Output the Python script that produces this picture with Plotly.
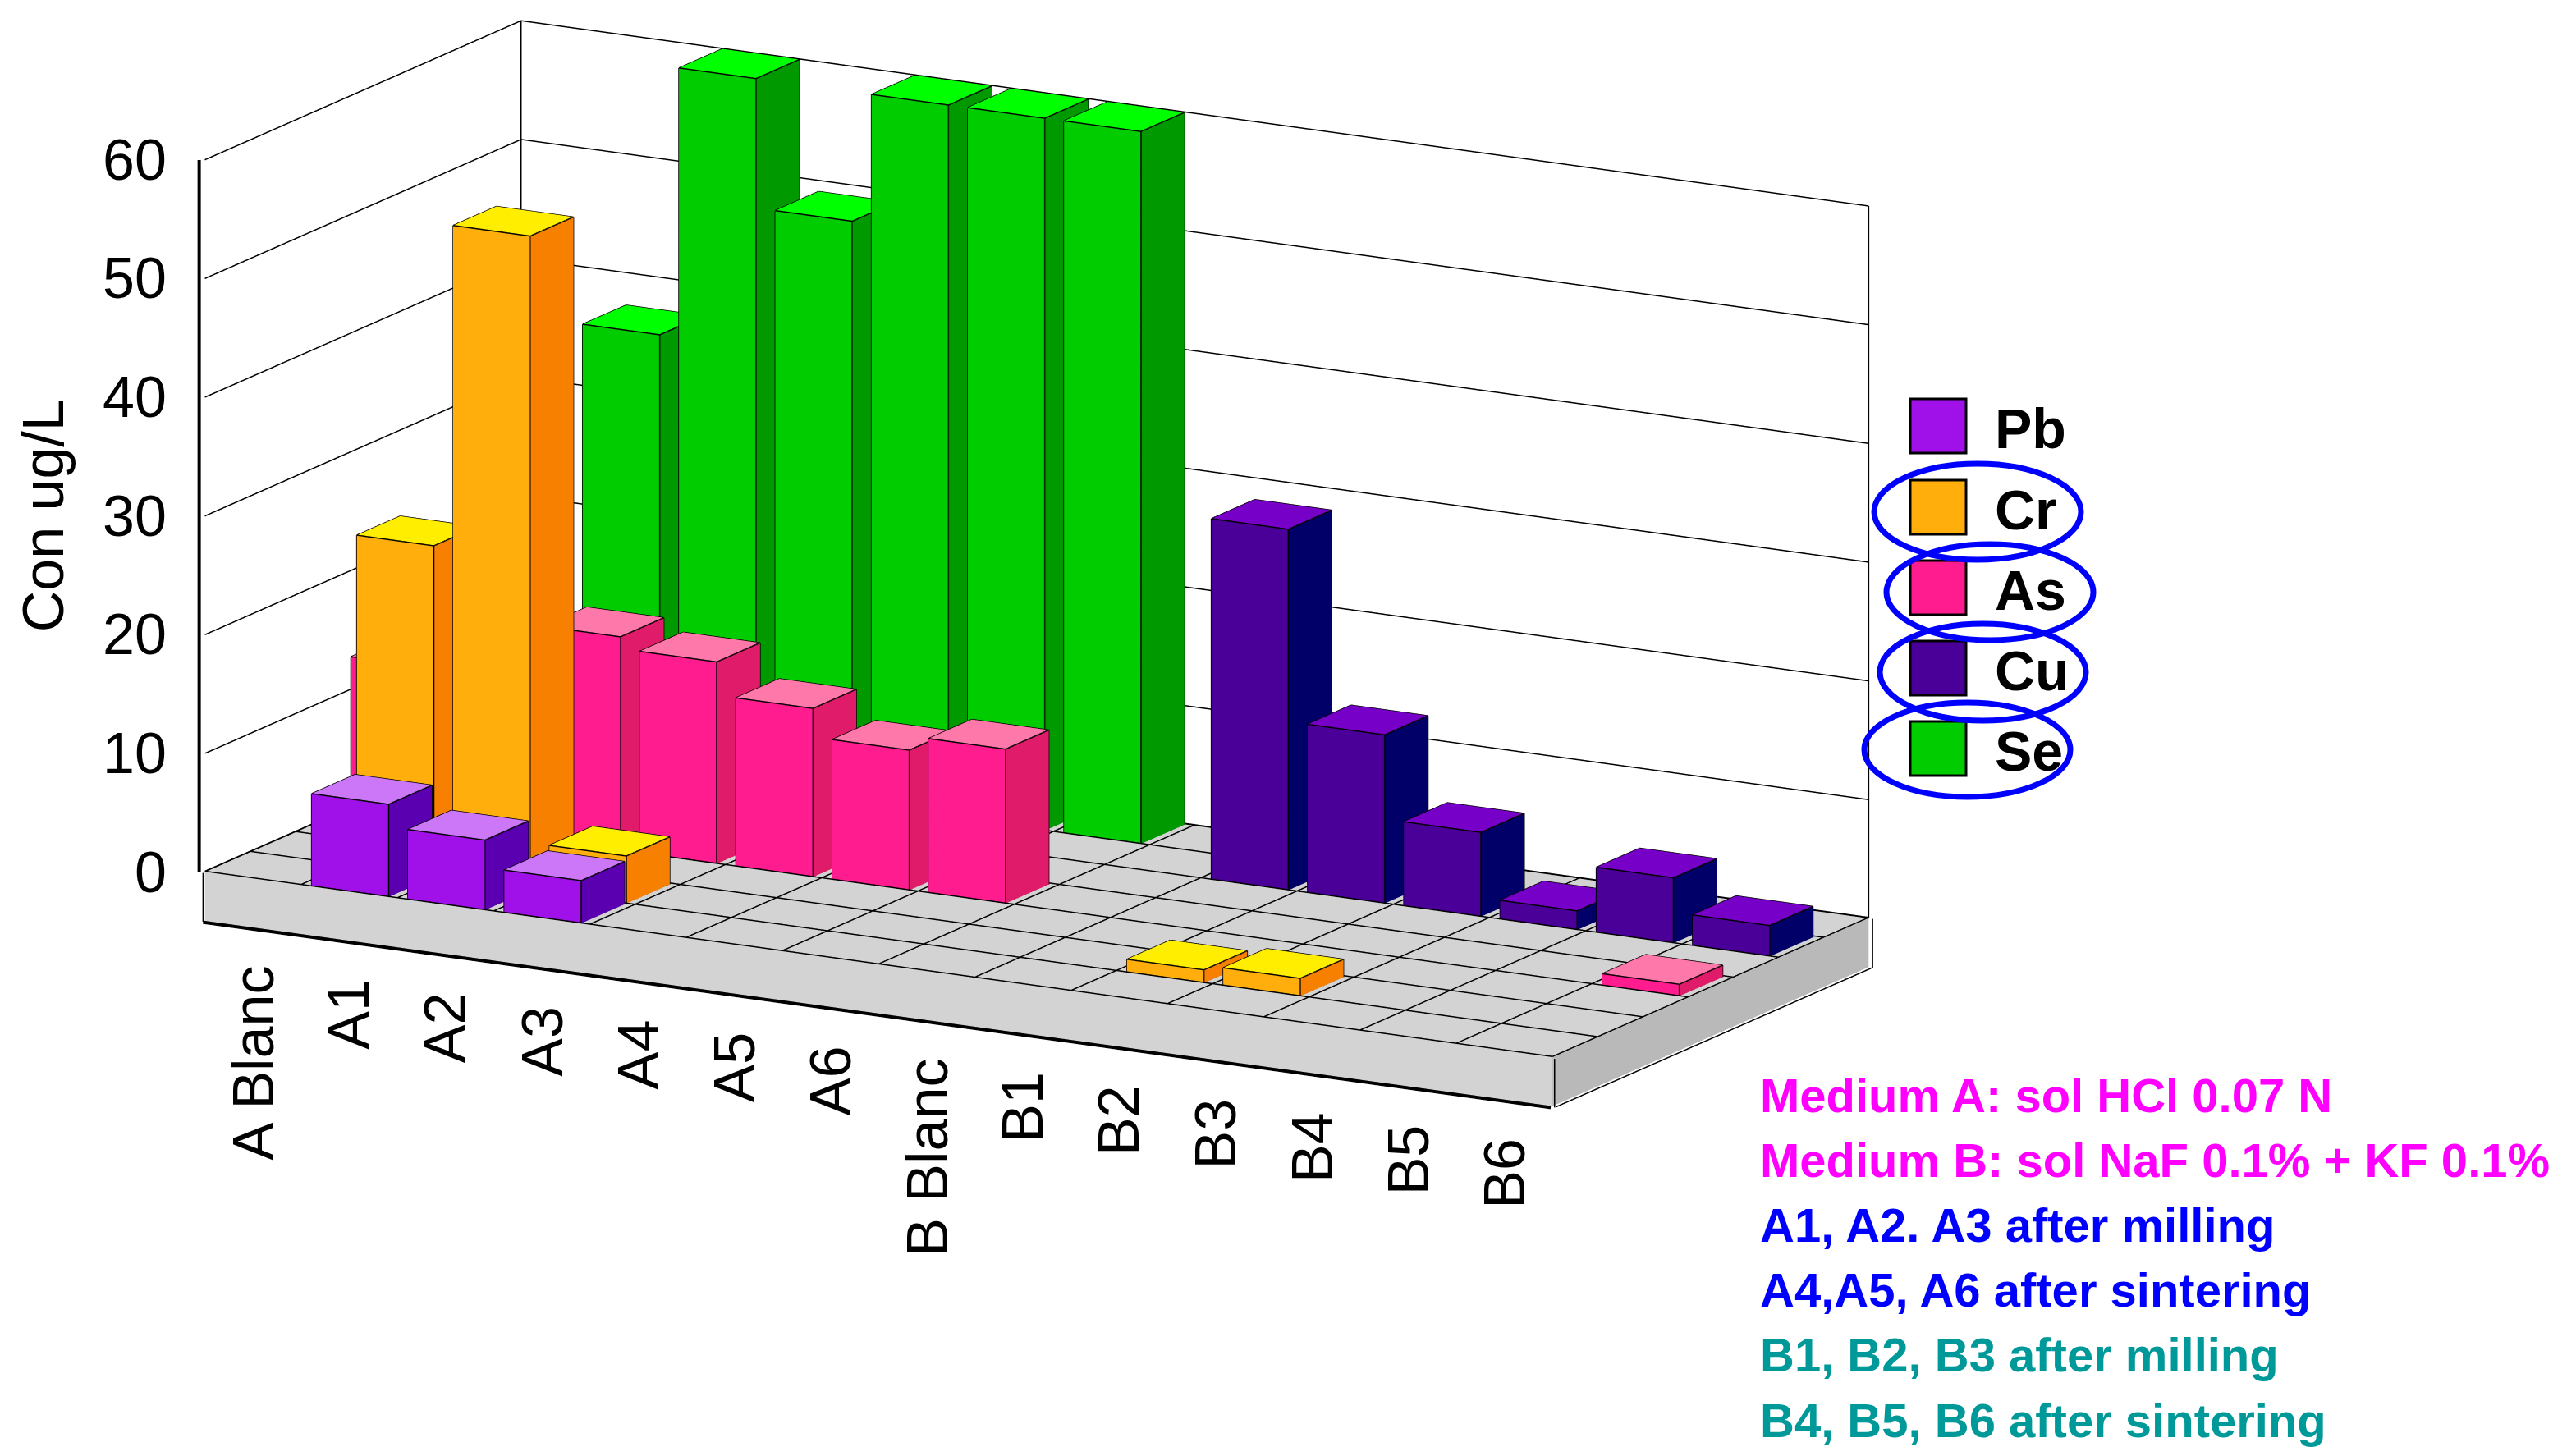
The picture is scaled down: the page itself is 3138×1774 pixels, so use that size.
import plotly.graph_objects as go

W, H = 3138, 1774

# ---- data ----
categories = ["A Blanc", "A1", "A2", "A3", "A4", "A5", "A6",
              "B Blanc", "B1", "B2", "B3", "B4", "B5", "B6"]
series_names = ["Pb", "Cr", "As", "Cu", "Se"]
pb = [0, 7.8, 5.9, 3.6, 0, 0, 0, 0, 0, 0, 0, 0, 0, 0]
cr = [0, 27.9, 55.1, 4.0, 0, 0, 0, 0, 0, 1.1, 1.5, 0, 0, 0]
as_ = [13.2, 17.0, 18.0, 17.0, 14.2, 11.8, 13.0, 0, 0, 0, 0, 0, 0, 1.0]
cu = [0, 0, 0, 0, 0, 0, 0, 0, 30.4, 14.2, 7.1, 1.6, 5.5, 2.6]
se = [0, 37.3, 60, 49.1, 60, 60, 60, 0, 0, 0, 0, 0, 0, 0]
z_ticks = [0, 10, 20, 30, 40, 50, 60]
notes = ["Medium A: sol HCl 0.07 N",
         "Medium B: sol NaF 0.1% + KF 0.1%",
         "A1, A2. A3 after milling",
         "A4,A5, A6 after sintering",
         "B1, B2, B3 after milling",
         "B4, B5, B6 after sintering"]

values = [pb, cr, as_, cu, se]
# depth rows (two empty rows in the original chart)
rows = [0, 1, 3, 5, 6]
n_rows = 7
# (front, top, side) shades
shades = [("#A010E8", "#CC77F8", "#5A00B0"),
          ("#FFAE0C", "#FFEE00", "#F78000"),
          ("#FF1C8E", "#FF78AA", "#E01C6A"),
          ("#4A0098", "#7700C8", "#000068"),
          ("#00CC00", "#00FF00", "#009900")]
note_colors = ["#FF00FF", "#FF00FF", "#0000FF", "#0000FF", "#009999", "#009999"]

nx = len(categories)
zmin, zmax = -4.1, 60
pad = 0.15  # head room round the drawing so edge lines are not clipped
xr = [-pad, nx + pad]
yr = [-pad, n_rows + pad]
zr = [zmin - 2 * pad, zmax + 2 * pad]
flat = dict(ambient=1, diffuse=0, specular=0, roughness=1, fresnel=0)


def box_mesh(x0, x1, y0, y1, z0, z1):
    vx = [x0, x1, x1, x0, x0, x1, x1, x0]
    vy = [y0, y0, y1, y1, y0, y0, y1, y1]
    vz = [z0, z0, z0, z0, z1, z1, z1, z1]
    # faces: front(y0), top, right(x1), left, back, bottom
    tris = [(0, 1, 5), (0, 5, 4),
            (4, 5, 6), (4, 6, 7),
            (1, 2, 6), (1, 6, 5),
            (0, 4, 7), (0, 7, 3),
            (3, 7, 6), (3, 6, 2),
            (0, 3, 2), (0, 2, 1)]
    return vx, vy, vz, tris


def visible_edges(x0, x1, y0, y1, z0, z1):
    segs = [((x0, y0, z0), (x1, y0, z0)), ((x0, y0, z0), (x0, y0, z1)),
            ((x1, y0, z0), (x1, y0, z1)), ((x0, y0, z1), (x1, y0, z1)),
            ((x0, y0, z1), (x0, y1, z1)), ((x0, y1, z1), (x1, y1, z1)),
            ((x1, y0, z1), (x1, y1, z1)), ((x1, y1, z1), (x1, y1, z0)),
            ((x1, y0, z0), (x1, y1, z0))]
    ex, ey, ez = [], [], []
    for a, b in segs:
        ex += [a[0], b[0], None]
        ey += [a[1], b[1], None]
        ez += [a[2], b[2], None]
    return ex, ey, ez


fig = go.Figure()

# floor slab
vx, vy, vz, tris = box_mesh(0, nx, 0, n_rows, zmin, 0)
fig.add_trace(go.Mesh3d(
    x=vx, y=vy, z=vz,
    i=[t[0] for t in tris], j=[t[1] for t in tris], k=[t[2] for t in tris],
    facecolor=["#D3D3D3"] * 4 + ["#B9B9B9"] * 2 + ["#D3D3D3"] * 6,
    flatshading=True, lighting=flat, hoverinfo="skip", showlegend=False))

# grid and frame lines
eps = 0.04
gx, gy, gz = [], [], []
for i in range(nx + 1):
    gx += [i, i, None]; gy += [0, n_rows, None]; gz += [0.08, 0.08, None]
for r in range(n_rows + 1):
    gx += [0, nx, None]; gy += [r, r, None]; gz += [0.08, 0.08, None]
for t in z_ticks:
    gx += [0, 0, nx, None]; gy += [0, n_rows, n_rows, None]; gz += [t, t, t, None]
for (px, py) in [(0, n_rows), (nx, n_rows)]:
    gx += [px, px, None]; gy += [py, py, None]; gz += [0, zmax, None]
for a, b in [((0, -eps, zmin), (0, -eps, 0)), ((nx + eps, -eps, zmin), (nx + eps, -eps, 0)),
             ((nx + eps, 0, zmin), (nx + eps, n_rows, zmin)),
             ((nx + eps, n_rows, zmin), (nx + eps, n_rows, 0))]:
    gx += [a[0], b[0], None]; gy += [a[1], b[1], None]; gz += [a[2], b[2], None]
fig.add_trace(go.Scatter3d(x=gx, y=gy, z=gz, mode="lines",
                           line=dict(color="black", width=3),
                           hoverinfo="skip", showlegend=False))
fig.add_trace(go.Scatter3d(x=[-eps, -eps, None, 0, nx], y=[-eps, -eps, None, -eps, -eps],
                           z=[0, zmax, None, zmin - 0.05, zmin - 0.05], mode="lines",
                           line=dict(color="black", width=8),
                           hoverinfo="skip", showlegend=False))

# bars
bw, bd = 0.8, 0.96
for name, vals, r, (cf, ct, cs) in zip(series_names, values, rows, shades):
    X, Y, Z, I, J, K, FC = [], [], [], [], [], [], []
    EX, EY, EZ = [], [], []
    for ci, v in enumerate(vals):
        if v <= 0:
            continue
        x0 = ci + (1 - bw) / 2
        y0 = r + (1 - bd) / 2
        bx, by, bz, tris = box_mesh(x0, x0 + bw, y0, y0 + bd, 0, v)
        off = len(X)
        X += bx; Y += by; Z += bz
        for t in tris:
            I.append(t[0] + off); J.append(t[1] + off); K.append(t[2] + off)
        FC += [cf, cf, ct, ct, cs, cs, cs, cs, cs, cs, cs, cs]
        ex, ey, ez = visible_edges(x0, x0 + bw, y0, y0 + bd, 0, v)
        EX += ex; EY += ey; EZ += ez
    fig.add_trace(go.Mesh3d(x=X, y=Y, z=Z, i=I, j=J, k=K, facecolor=FC,
                            flatshading=True, lighting=flat, name=name,
                            hoverinfo="skip", showlegend=False))
    fig.add_trace(go.Scatter3d(x=EX, y=EY, z=EZ, mode="lines",
                               line=dict(color="black", width=3),
                               hoverinfo="skip", showlegend=False))

font = "Liberation Sans, Arial, sans-serif"
scene_ann = []
for ci, c in enumerate(categories):
    scene_ann.append(dict(x=ci + 0.5, y=0, z=zmin, text=c, showarrow=False,
                          textangle=-90, xanchor="center", yanchor="top", yshift=-45,
                          font=dict(family=font, size=70, color="black")))
for t in z_ticks:
    scene_ann.append(dict(x=0, y=0, z=t, text=str(t), showarrow=False,
                          xanchor="right", yanchor="middle", xshift=-45,
                          font=dict(family=font, size=70, color="black")))
scene_ann.append(dict(x=0, y=0, z=30, text="Con ug/L", showarrow=False, textangle=-90,
                      xanchor="center", yanchor="middle", xshift=-197,
                      font=dict(family=font, size=70, color="black")))

L = 3.0
eye = dict(x=0.473 * L, y=-0.846 * L, z=0.246 * L)
zoom = 1.41
# keep the screen scale per data unit fixed, whatever the padded ranges are
sx = 1.966 * zoom / nx
sy = 0.825 * zoom / n_rows
sz = 1.0 * zoom / (zmax - zmin)

fig.update_layout(
    width=W, height=H, margin=dict(l=0, r=0, t=0, b=0),
    paper_bgcolor="white", showlegend=False,
    scene=dict(
        domain=dict(x=[0, 0.8], y=[0.235, 1.0]),
        xaxis=dict(visible=False, range=xr),
        yaxis=dict(visible=False, range=yr),
        zaxis=dict(visible=False, range=zr),
        aspectmode="manual",
        aspectratio=dict(x=sx * (xr[1] - xr[0]), y=sy * (yr[1] - yr[0]),
                         z=sz * (zr[1] - zr[0])),
        camera=dict(eye=eye, up=dict(x=0, y=0, z=1), center=dict(x=0, y=0, z=0),
                    projection=dict(type="orthographic")),
        annotations=scene_ann,
        dragmode=False,
    ),
)

# legend drawn as swatches with labels
shapes, anns = [], []
sq_top = [478, 577, 675, 773, 871]
for name, (cf, _, _), top in zip(series_names, shades, sq_top):
    shapes.append(dict(type="rect", xref="paper", yref="paper",
                       x0=2319 / W, x1=2387 / W, y0=1 - (top + 66) / H, y1=1 - top / H,
                       fillcolor=cf, line=dict(color="black", width=3)))
    anns.append(dict(xref="paper", yref="paper", x=2420 / W, y=1 - (top + 36) / H,
                     text="<b>%s</b>" % name, showarrow=False, xanchor="left",
                     yanchor="middle", font=dict(family=font, size=68, color="black")))
ellipses = [(2275, 2527, 557, 674), (2290, 2542, 655, 772),
            (2282, 2533, 752, 870), (2263, 2514, 848, 963)]
for x0, x1, y0, y1 in ellipses:
    shapes.append(dict(type="circle", xref="paper", yref="paper",
                       x0=x0 / W, x1=x1 / W, y0=1 - y1 / H, y1=1 - y0 / H,
                       line=dict(color="#0000FF", width=7)))
for k, (txt, col) in enumerate(zip(notes, note_colors)):
    anns.append(dict(xref="paper", yref="paper", x=2134 / W, y=1 - (1326 + 79.2 * k) / H,
                     text="<b>%s</b>" % txt, showarrow=False, xanchor="left",
                     yanchor="middle", font=dict(family=font, size=58, color=col)))
fig.update_layout(shapes=shapes, annotations=anns)

fig.write_html("out.html")
